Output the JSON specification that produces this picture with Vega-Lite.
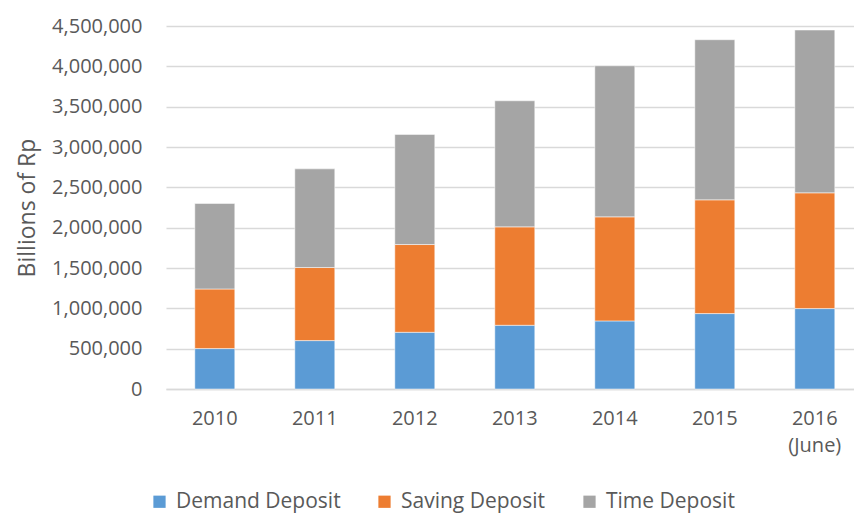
{
  "$schema": "https://vega.github.io/schema/vega-lite/v6.json",
  "width": 688,
  "height": 363,
  "autosize": {"type": "none"},
  "padding": {"left": 166, "top": 26, "right": 0, "bottom": 124},
  "background": "white",
  "config": {
    "view": {"stroke": null},
    "font": "Open Sans"
  },
  "data": {
    "values": [
      {"year": "2010", "type": "Demand Deposit", "k": 1, "value": 501000},
      {"year": "2010", "type": "Saving Deposit", "k": 2, "value": 739000},
      {"year": "2010", "type": "Time Deposit", "k": 3, "value": 1060000},
      {"year": "2011", "type": "Demand Deposit", "k": 1, "value": 600000},
      {"year": "2011", "type": "Saving Deposit", "k": 2, "value": 906000},
      {"year": "2011", "type": "Time Deposit", "k": 3, "value": 1223000},
      {"year": "2012", "type": "Demand Deposit", "k": 1, "value": 703000},
      {"year": "2012", "type": "Saving Deposit", "k": 2, "value": 1088000},
      {"year": "2012", "type": "Time Deposit", "k": 3, "value": 1365000},
      {"year": "2013", "type": "Demand Deposit", "k": 1, "value": 790000},
      {"year": "2013", "type": "Saving Deposit", "k": 2, "value": 1220000},
      {"year": "2013", "type": "Time Deposit", "k": 3, "value": 1563000},
      {"year": "2014", "type": "Demand Deposit", "k": 1, "value": 844000},
      {"year": "2014", "type": "Saving Deposit", "k": 2, "value": 1290000},
      {"year": "2014", "type": "Time Deposit", "k": 3, "value": 1873000},
      {"year": "2015", "type": "Demand Deposit", "k": 1, "value": 935000},
      {"year": "2015", "type": "Saving Deposit", "k": 2, "value": 1410000},
      {"year": "2015", "type": "Time Deposit", "k": 3, "value": 1985000},
      {"year": "2016", "type": "Demand Deposit", "k": 1, "value": 997000},
      {"year": "2016", "type": "Saving Deposit", "k": 2, "value": 1435000},
      {"year": "2016", "type": "Time Deposit", "k": 3, "value": 2018000}
    ]
  },
  "mark": {"type": "bar", "stroke": "white", "strokeWidth": 0.5},
  "encoding": {
    "x": {
      "field": "year",
      "type": "ordinal",
      "scale": {"paddingInner": 0.6, "paddingOuter": 0.24, "align": 0.6},
      "axis": {
        "title": null,
        "labelAngle": 0,
        "ticks": false,
        "labelFontSize": 20,
        "labelColor": "#595959",
        "labelPadding": 19,
        "domainColor": "#D9D9D9",
        "domainWidth": 1.5,
        "labelExpr": "datum.value == '2016' ? ['2016', '(June)'] : datum.value",
        "labelLineHeight": 27
      }
    },
    "y": {
      "field": "value",
      "type": "quantitative",
      "stack": "zero",
      "scale": {"domain": [0, 4500000], "nice": false},
      "axis": {
        "title": "Billions of Rp",
        "titleFontSize": 23,
        "titleFontWeight": "normal",
        "titleColor": "#595959",
        "titlePadding": 12,
        "values": [0, 500000, 1000000, 1500000, 2000000, 2500000, 3000000, 3500000, 4000000, 4500000],
        "format": ",d",
        "labelFontSize": 20,
        "labelColor": "#595959",
        "labelPadding": 24,
        "ticks": false,
        "domain": false,
        "gridColor": "#D9D9D9",
        "gridWidth": 1.5
      }
    },
    "color": {
      "field": "type",
      "type": "nominal",
      "scale": {
        "domain": ["Demand Deposit", "Saving Deposit", "Time Deposit"],
        "range": ["#5B9BD5", "#ED7D31", "#A5A5A5"]
      },
      "legend": {
        "title": null,
        "orient": "none",
        "direction": "horizontal",
        "legendX": -17,
        "legendY": 465,
        "padding": 0,
        "symbolType": "square",
        "symbolSize": 150,
        "symbolStrokeWidth": 0,
        "labelFontSize": 21,
        "labelLimit": 400,
        "labelColor": "#595959",
        "labelOffset": 6,
        "columnPadding": 33
      }
    },
    "order": {"field": "k", "type": "quantitative"}
  }
}
